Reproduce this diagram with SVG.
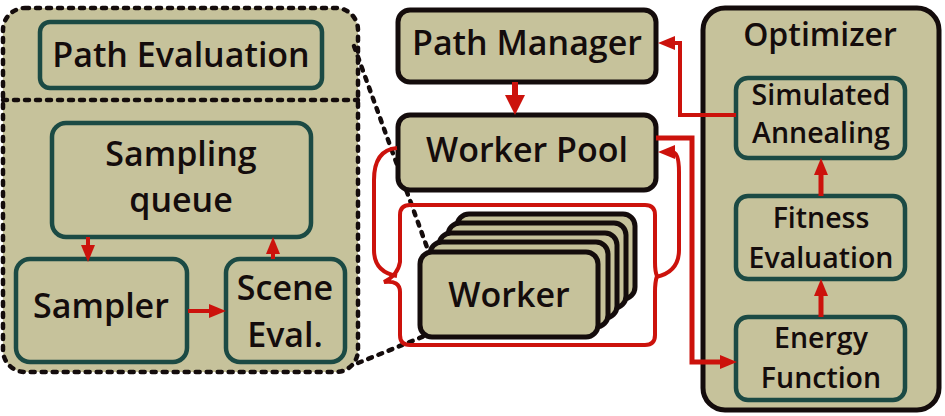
<svg xmlns="http://www.w3.org/2000/svg" width="945" height="416" viewBox="0 0 945 416">
<defs>
<style>
.t{font-family:"Open Sans","DejaVu Sans",sans-serif;font-weight:600;fill:#140c0c;text-anchor:middle}
.big{font-size:34px}
.mid{font-size:28.5px}
.tb{fill:#c6c29b;stroke:#1b4a44;stroke-width:4.5}
.bb{fill:#c6c29b;stroke:#140c0c;stroke-width:5}
.dash{fill:none;stroke:#140c0c;stroke-width:4.5;stroke-dasharray:4 7;stroke-linecap:round}
.r{fill:none;stroke:#cc120c;stroke-width:4}
</style>
<marker id="ah" viewBox="0 0 17 14" refX="3" refY="7" markerWidth="17" markerHeight="14" markerUnits="userSpaceOnUse" orient="auto">
<path d="M0,0 L17,7 L0,14 Z" fill="#cc120c"/>
</marker>
<marker id="ahb" viewBox="0 0 20 20" refX="4" refY="10" markerWidth="20" markerHeight="20" markerUnits="userSpaceOnUse" orient="auto">
<path d="M0,0 L20,10 L0,20 Z" fill="#cc120c"/>
</marker>
</defs>

<!-- left panel -->
<g id="path-evaluation-panel">
<rect x="3" y="8" width="355" height="364" rx="22" fill="#c6c29b"/>
<rect x="3" y="8" width="355" height="364" rx="22" class="dash"/>
<line x1="3" y1="100" x2="358" y2="100" class="dash"/>
</g>
<g id="path-evaluation">
<rect x="40" y="22" width="282" height="66" rx="10" class="tb"/>
<text x="181" y="67" class="t big">Path Evaluation</text>
</g>
<g id="sampling-queue">
<rect x="52" y="123" width="259" height="114" rx="14" class="tb"/>
<text x="181" y="166" class="t big">Sampling</text>
<text x="181" y="212" class="t big">queue</text>
</g>
<g id="sampler">
<rect x="16" y="259" width="171" height="103" rx="14" class="tb"/>
<text x="101" y="318" class="t big">Sampler</text>
</g>
<g id="scene-eval">
<rect x="226" y="259" width="119" height="103" rx="14" class="tb"/>
<text x="285" y="300" class="t big">Scene</text>
<text x="285" y="347" class="t big">Eval.</text>
</g>

<!-- zoom dashed lines -->
<g id="zoom-lines">
<path d="M354 46 L428 250" class="dash"/>
<path d="M358 363 L427 335" class="dash"/>
</g>

<!-- center -->
<g id="path-manager">
<rect x="398" y="10" width="258" height="72" rx="12" class="bb"/>
<text x="527" y="55" class="t big">Path Manager</text>
</g>
<g id="worker-pool">
<rect x="398" y="115" width="258" height="75" rx="12" class="bb"/>
<text x="527" y="162" class="t big">Worker Pool</text>
</g>
<g id="workers">
<rect x="457" y="214" width="178" height="85" rx="12" class="bb"/>
<rect x="448" y="223" width="178" height="85" rx="12" class="bb"/>
<rect x="439" y="233" width="178" height="85" rx="12" class="bb"/>
<rect x="430" y="242" width="178" height="85" rx="12" class="bb"/>
<rect x="420" y="252" width="178" height="85" rx="12" class="bb"/>
<text x="509" y="307" class="t big">Worker</text>
</g>

<!-- optimizer -->
<g id="optimizer">
<rect x="703" y="8" width="236" height="402" rx="22" class="bb"/>
<text x="820" y="46" class="t" style="font-size:32px">Optimizer</text>
</g>
<g id="simulated-annealing">
<rect x="736" y="78" width="169" height="80" rx="12" class="tb"/>
<text x="821" y="105" class="t mid">Simulated</text>
<text x="821" y="143" class="t mid">Annealing</text>
</g>
<g id="fitness-evaluation">
<rect x="736" y="196" width="169" height="83" rx="12" class="tb"/>
<text x="821" y="228" class="t mid">Fitness</text>
<text x="821" y="268" class="t mid">Evaluation</text>
</g>
<g id="energy-function">
<rect x="736" y="317" width="169" height="83" rx="12" class="tb"/>
<text x="821" y="348" class="t mid">Energy</text>
<text x="821" y="388" class="t mid">Function</text>
</g>

<!-- connectors -->
<g id="connectors">
<line x1="88" y1="237" x2="88" y2="248" class="r" marker-end="url(#ah)"/>
<line x1="273" y1="259" x2="273" y2="251" class="r" marker-end="url(#ah)"/>
<line x1="188" y1="311" x2="212" y2="311" class="r" marker-end="url(#ah)"/>
<line x1="515" y1="82" x2="515" y2="99" class="r" style="stroke-width:6" marker-end="url(#ahb)"/>
<path d="M736 115 L680 115 L680 43 L672 43" class="r" marker-end="url(#ah)"/>
<path d="M656 138 L692 138 L692 362 L723 362" class="r" style="stroke-width:5" marker-end="url(#ah)"/>
<line x1="821" y1="196" x2="821" y2="172" class="r" style="stroke-width:5" marker-end="url(#ah)"/>
<line x1="821" y1="317" x2="821" y2="293" class="r" style="stroke-width:5" marker-end="url(#ah)"/>
<!-- bracket enclosure -->
<path d="M410 205 L645 205 Q655 205 655 215 L655 262 Q655 272 657 276 Q655 282 655 292 L655 335 Q655 345 645 345 L410 345 Q400 345 400 335 L400 292 Q400 280 384 282 Q398 275 400 262 L400 215 Q400 205 410 205 Z" class="r"/>
<path d="M397 148 Q374 150 374 180 L374 250 Q374 272 397 276" class="r"/>
<path d="M656 277 Q679 272 679 250 L679 172 Q679 152 672 152" class="r" marker-end="url(#ah)"/>
</g>
</svg>
